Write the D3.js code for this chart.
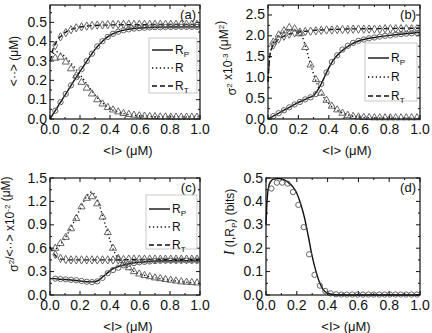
<!DOCTYPE html>
<html>
<head>
<meta charset="utf-8">
<script src="https://cdn.jsdelivr.net/npm/d3@7"></script>
<style>
  body { margin: 0; background: #fff; }
  svg { display: block; font-family: "Liberation Sans", Arial, sans-serif; }
</style>
</head>
<body>
<svg id="chart" width="432" height="333"></svg>
<script>
// x grid of the theory curves
const lineX = [0, 0.005, 0.01, 0.02, 0.03, 0.05, 0.075, 0.1, 0.125, 0.15, 0.175, 0.2, 0.225, 0.25, 0.275,
  0.3, 0.325, 0.35, 0.375, 0.4, 0.425, 0.45, 0.5, 0.55, 0.6, 0.65, 0.7, 0.8, 0.9, 1.0];
// x grid of the simulation markers
const markX = [0.035, 0.07, 0.105, 0.14, 0.175, 0.21, 0.245, 0.28, 0.315, 0.35, 0.385, 0.42, 0.455, 0.49,
  0.525, 0.56, 0.595, 0.63, 0.665, 0.7, 0.735, 0.77, 0.805, 0.84, 0.875, 0.91, 0.945, 0.98];

// (a) means
const aLineRp = [0, 0.006, 0.012, 0.025, 0.037, 0.062, 0.093, 0.124, 0.155, 0.186, 0.216, 0.246, 0.275, 0.305, 0.333,
  0.36, 0.383, 0.403, 0.42, 0.433, 0.443, 0.451, 0.461, 0.467, 0.471, 0.473, 0.475, 0.476, 0.477, 0.477];
const aLineR = [0.30, 0.304, 0.318, 0.335, 0.343, 0.348, 0.337, 0.323, 0.303, 0.28, 0.256, 0.23, 0.204, 0.176, 0.15,
  0.124, 0.102, 0.083, 0.067, 0.054, 0.044, 0.036, 0.026, 0.02, 0.016, 0.014, 0.012, 0.011, 0.011, 0.011];
const aLineRt = [0.30, 0.31, 0.33, 0.36, 0.38, 0.41, 0.43, 0.447, 0.458, 0.466, 0.472, 0.476, 0.479, 0.481, 0.483,
  0.484, 0.485, 0.486, 0.486, 0.487, 0.487, 0.488, 0.488, 0.488, 0.488, 0.489, 0.489, 0.489, 0.489, 0.489];
const aMarkRp = [0.043, 0.087, 0.13, 0.174, 0.216, 0.258, 0.3, 0.338, 0.376, 0.403, 0.425, 0.441, 0.452, 0.459,
  0.464, 0.468, 0.47, 0.472, 0.474, 0.475, 0.475, 0.476, 0.476, 0.477, 0.477, 0.477, 0.477, 0.477];
const aMarkR = [0.315, 0.32, 0.295, 0.26, 0.225, 0.19, 0.16, 0.13, 0.1, 0.078, 0.06, 0.047, 0.037, 0.029,
  0.024, 0.02, 0.017, 0.015, 0.013, 0.012, 0.011, 0.011, 0.01, 0.01, 0.01, 0.01, 0.01, 0.01];
const aMarkRt = [0.38, 0.425, 0.447, 0.462, 0.472, 0.477, 0.481, 0.484, 0.486, 0.487, 0.488, 0.489, 0.489, 0.49,
  0.49, 0.49, 0.49, 0.49, 0.49, 0.49, 0.49, 0.49, 0.49, 0.49, 0.49, 0.49, 0.49, 0.49];

// (b) variances x10^-3
const bLineRp = [0, 0.01, 0.02, 0.04, 0.06, 0.1, 0.15, 0.2, 0.25, 0.3, 0.35, 0.4, 0.44, 0.48, 0.52,
  0.56, 0.68, 0.84, 1.04, 1.23, 1.39, 1.51, 1.68, 1.8, 1.88, 1.93, 1.96, 2.01, 2.05, 2.08];
const bLineR = [0.9, 1.2, 1.45, 1.67, 1.78, 1.92, 2.03, 2.1, 2.14, 2.15, 2.13, 2.07, 1.98, 1.7, 1.38,
  1.08, 0.82, 0.62, 0.48, 0.37, 0.28, 0.22, 0.13, 0.075, 0.05, 0.035, 0.028, 0.022, 0.02, 0.02];
const bLineRt = [0.9, 1.2, 1.45, 1.65, 1.74, 1.85, 1.93, 1.98, 2.02, 2.05, 2.07, 2.09, 2.1, 2.11, 2.12,
  2.13, 2.135, 2.14, 2.145, 2.15, 2.15, 2.155, 2.16, 2.165, 2.17, 2.17, 2.17, 2.175, 2.18, 2.18];
const bMarkRp = [0.07, 0.14, 0.21, 0.28, 0.35, 0.41, 0.47, 0.52, 0.6, 0.84, 1.12, 1.37, 1.53, 1.67,
  1.76, 1.83, 1.88, 1.91, 1.94, 1.96, 1.98, 2.0, 2.01, 2.03, 2.04, 2.05, 2.06, 2.07];
const bMarkR = [1.85, 2.02, 2.12, 2.2, 2.17, 2.05, 1.72, 1.3, 0.95, 0.62, 0.45, 0.31, 0.22, 0.14,
  0.09, 0.065, 0.05, 0.04, 0.035, 0.03, 0.03, 0.03, 0.03, 0.03, 0.03, 0.03, 0.03, 0.03];
const bMarkRt = [1.78, 1.92, 1.99, 2.04, 2.07, 2.09, 2.1, 2.11, 2.12, 2.13, 2.14, 2.14, 2.15, 2.15,
  2.15, 2.16, 2.16, 2.16, 2.16, 2.16, 2.16, 2.17, 2.17, 2.17, 2.17, 2.17, 2.17, 2.17];

// (c) Fano factors x10^-2
const cLineRp = [0.21, 0.21, 0.21, 0.21, 0.21, 0.205, 0.2, 0.198, 0.195, 0.19, 0.185, 0.18, 0.175, 0.17, 0.168,
  0.17, 0.19, 0.23, 0.27, 0.31, 0.34, 0.36, 0.39, 0.41, 0.42, 0.43, 0.435, 0.44, 0.44, 0.44];
const cLineR = [0.6, 0.58, 0.57, 0.57, 0.58, 0.61, 0.66, 0.73, 0.81, 0.9, 1.0, 1.1, 1.2, 1.28, 1.32,
  1.28, 1.17, 1.02, 0.86, 0.7, 0.57, 0.48, 0.37, 0.31, 0.27, 0.24, 0.22, 0.19, 0.165, 0.145];
const cLineRt = [0.62, 0.6, 0.58, 0.55, 0.52, 0.48, 0.46, 0.455, 0.45, 0.45, 0.45, 0.45, 0.45, 0.45, 0.45,
  0.45, 0.45, 0.45, 0.45, 0.45, 0.45, 0.45, 0.452, 0.455, 0.455, 0.455, 0.455, 0.455, 0.455, 0.455];
const cMarkRp = [0.21, 0.205, 0.2, 0.195, 0.19, 0.18, 0.17, 0.165, 0.175, 0.22, 0.28, 0.32, 0.35, 0.38,
  0.4, 0.41, 0.42, 0.425, 0.43, 0.435, 0.44, 0.44, 0.44, 0.44, 0.44, 0.44, 0.44, 0.44];
const cMarkR = [0.6, 0.66, 0.74, 0.85, 0.98, 1.13, 1.24, 1.26, 1.17, 1.0, 0.8, 0.6, 0.47, 0.4,
  0.35, 0.3, 0.27, 0.25, 0.235, 0.22, 0.21, 0.2, 0.19, 0.18, 0.17, 0.165, 0.16, 0.155];
const cMarkRt = [0.52, 0.47, 0.455, 0.45, 0.45, 0.45, 0.45, 0.45, 0.45, 0.45, 0.45, 0.45, 0.45, 0.455,
  0.46, 0.46, 0.46, 0.46, 0.46, 0.46, 0.46, 0.46, 0.46, 0.46, 0.46, 0.46, 0.46, 0.46];

// (d) mutual information
const dLine = [0.3, 0.38, 0.43, 0.47, 0.485, 0.495, 0.498, 0.496, 0.49, 0.478, 0.462, 0.435, 0.39, 0.33, 0.25,
  0.165, 0.1, 0.05, 0.02, 0.008, 0.003, 0.001, 0, 0, 0, 0, 0, 0, 0, 0];
const dMark = [0.455, 0.48, 0.48, 0.476, 0.44, 0.385, 0.29, 0.174, 0.086, 0.04, 0.017, 0.007, 0.003, 0.002,
  0.002, 0.002, 0.002, 0.002, 0.002, 0.002, 0.002, 0.002, 0.002, 0.002, 0.002, 0.002, 0.002, 0.002];

const xTicks = [0, 0.2, 0.4, 0.6, 0.8, 1.0];
const legendNames = [["R", "P"], ["R", ""], ["R", "T"]];

const svg = d3.select("#chart");
const INK = "#111";
const MARK = "#555";

function drawPanel(p) {
  const x = d3.scaleLinear().domain([0, 1]).range([p.left, p.right]);
  const y = d3.scaleLinear().domain([0, p.yMax]).range([p.bottom, p.top]);
  const g = svg.append("g");

  // ticks, inward on all four sides
  const xMinor = d3.range(0, 1.0001, 0.1);
  const yMajor = d3.range(0, p.yMax + 1e-9, p.yStep);
  const yMinor = d3.range(0, p.yMax + 1e-9, p.yStep / 2);
  const tk = g.append("g").attr("stroke", INK).attr("stroke-width", 1);
  xMinor.forEach((v, i) => {
    const L = i % 2 === 0 ? 4 : 2;
    tk.append("line").attr("x1", x(v)).attr("x2", x(v)).attr("y1", p.bottom).attr("y2", p.bottom - L);
    tk.append("line").attr("x1", x(v)).attr("x2", x(v)).attr("y1", p.top).attr("y2", p.top + L);
  });
  yMinor.forEach((v, i) => {
    const L = i % 2 === 0 ? 4 : 2;
    tk.append("line").attr("y1", y(v)).attr("y2", y(v)).attr("x1", p.left).attr("x2", p.left + L);
    tk.append("line").attr("y1", y(v)).attr("y2", y(v)).attr("x1", p.right).attr("x2", p.right - L);
  });

  // tick labels
  g.selectAll("text.xt").data(xTicks).join("text")
    .attr("x", d => x(d)).attr("y", p.bottom + 15)
    .attr("text-anchor", "middle").attr("font-size", 14).attr("fill", INK)
    .text(d => d.toFixed(1));
  g.selectAll("text.yt").data(yMajor).join("text")
    .attr("x", p.left - 3).attr("y", d => y(d) + 4.5)
    .attr("text-anchor", "end").attr("font-size", 14).attr("fill", INK)
    .text(d => d.toFixed(1));

  // axis titles
  g.append("text").attr("x", (p.left + p.right) / 2 + 3).attr("y", p.bottom + 36)
    .attr("text-anchor", "middle").attr("font-size", 13).attr("fill", INK)
    .text("<I> (\u03bcM)");
  const yt = g.append("text")
    .attr("transform", `translate(${p.left - 32},${p.titleY}) rotate(-90)`)
    .attr("text-anchor", "middle").attr("font-size", 12).attr("fill", INK);
  p.yTitle(yt);

  // theory curves
  const line = d3.line().x((d, i) => x(lineX[i])).y(d => y(d)).curve(d3.curveMonotoneX);
  const styles = [null, "1.3,2.6", "5,3"];
  p.lines.forEach((arr, k) => {
    g.append("path").attr("d", line(arr)).attr("fill", "none")
      .attr("stroke", INK).attr("stroke-width", 1.4)
      .attr("stroke-dasharray", styles[k]);
  });

  // simulation markers: circles, triangles, diamonds
  const sym = [d3.symbolCircle, d3.symbolTriangle, d3.symbolDiamond];
  const sz = [22, 22, 20];
  p.marks.forEach((arr, k) => {
    g.selectAll(null).data(arr).join("path")
      .attr("transform", (d, i) => `translate(${x(markX[i])},${y(d)})`)
      .attr("d", d3.symbol(sym[k], sz[k])())
      .attr("fill", "none").attr("stroke", MARK).attr("stroke-width", 0.9);
  });

  // frame
  g.append("rect").attr("x", p.left).attr("y", p.top)
    .attr("width", p.right - p.left).attr("height", p.bottom - p.top)
    .attr("fill", "none").attr("stroke", INK).attr("stroke-width", 1.2);

  // panel tag
  g.append("text").attr("x", p.right - 4).attr("y", p.top + 14)
    .attr("text-anchor", "end").attr("font-size", 13).attr("fill", INK).text(p.tag);

  // legend
  if (p.legend) {
    const lg = p.legend;
    g.append("rect").attr("x", lg.x).attr("y", lg.y).attr("width", p.right - lg.x - 3).attr("height", lg.h)
      .attr("fill", "#fff").attr("stroke", "#bbb").attr("stroke-width", 0.8);
    legendNames.forEach((nm, k) => {
      const cy = lg.y + lg.first + k * lg.gap;
      g.append("line").attr("x1", lg.x + 3).attr("x2", lg.x + 24).attr("y1", cy).attr("y2", cy)
        .attr("stroke", INK).attr("stroke-width", 1.4).attr("stroke-dasharray", styles[k]);
      const t = g.append("text").attr("x", lg.x + 26).attr("y", cy + 4)
        .attr("font-size", 12).attr("fill", INK);
      t.append("tspan").text(nm[0]);
      if (nm[1]) t.append("tspan").attr("font-size", 8).attr("dy", 3).text(nm[1]);
    });
  }
}

function sup(t, s) { t.append("tspan").attr("font-size", 8).attr("dy", -4).text(s); t.append("tspan").attr("dy", 4).text(""); }

drawPanel({
  left: 50, right: 200, top: 5, bottom: 119, yMax: 0.59, yStep: 0.1, tag: "(a)", titleY: 61,
  lines: [aLineRp, aLineR, aLineRt], marks: [aMarkRp, aMarkR, aMarkRt],
  legend: { x: 149, y: 38, h: 55, first: 12, gap: 18 },
  yTitle: t => t.append("tspan").text("<\u00b7\u00b7> (\u03bcM)")
});
drawPanel({
  left: 268, right: 420, top: 5, bottom: 119, yMax: 2.74, yStep: 0.5, tag: "(b)", titleY: 58,
  lines: [bLineRp, bLineR, bLineRt], marks: [bMarkRp, bMarkR, bMarkRt],
  legend: { x: 365, y: 43, h: 58, first: 15, gap: 19 },
  yTitle: t => {
    t.append("tspan").text("\u03c3");
    sup(t, "2");
    t.append("tspan").text(" x10");
    sup(t, "-3");
    t.append("tspan").text(" (\u03bcM");
    sup(t, "2");
    t.append("tspan").text(")");
  }
});
drawPanel({
  left: 50, right: 200, top: 178, bottom: 295, yMax: 1.5, yStep: 0.3, tag: "(c)", titleY: 224,
  lines: [cLineRp, cLineR, cLineRt], marks: [cMarkRp, cMarkR, cMarkRt],
  legend: { x: 146, y: 195, h: 54, first: 14, gap: 18 },
  yTitle: t => {
    t.append("tspan").text("\u03c3");
    sup(t, "2");
    t.append("tspan").text("/<\u00b7\u00b7> x10");
    sup(t, "-2");
    t.append("tspan").text(" (\u03bcM)");
  }
});
drawPanel({
  left: 266, right: 420, top: 178, bottom: 295, yMax: 0.5, yStep: 0.1, tag: "(d)", titleY: 222,
  lines: [dLine], marks: [dMark],
  legend: null,
  yTitle: t => {
    t.append("tspan").attr("font-style", "italic").attr("font-family", "Liberation Serif").attr("font-size", 14).text("I");
    t.append("tspan").text(" (I,R");
    t.append("tspan").attr("font-size", 8).attr("dy", 3).text("P");
    t.append("tspan").attr("dy", -3).text(") (bits)");
  }
});
</script>
</body>
</html>
